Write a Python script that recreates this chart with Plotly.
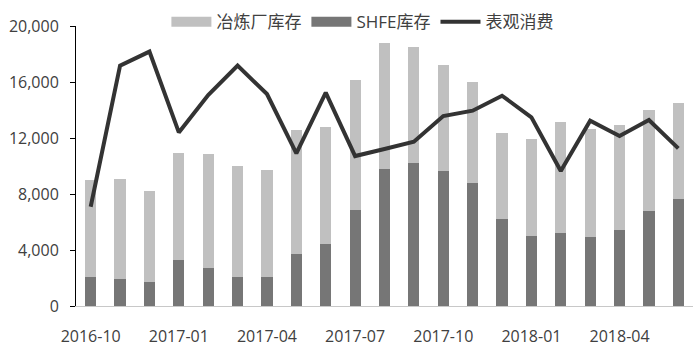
import plotly.graph_objects as go

months = ["2016-10","2016-11","2016-12","2017-01","2017-02","2017-03","2017-04","2017-05","2017-06",
          "2017-07","2017-08","2017-09","2017-10","2017-11","2017-12","2018-01","2018-02","2018-03",
          "2018-04","2018-05","2018-06"]
shfe = [2070, 1930, 1710, 3290, 2710, 2070, 2070, 3710, 4430, 6860, 9790, 10210, 9640, 8790,
        6210, 5000, 5210, 4930, 5430, 6790, 7640]
total = [9000, 9070, 8210, 10950, 10860, 10020, 9710, 12570, 12790, 16140, 18790, 18500, 17210,
         16000, 12360, 11930, 13140, 12660, 12930, 14000, 14500]
smelter = [t - s for t, s in zip(total, shfe)]
consumption = [7090, 17170, 18170, 12400, 15070, 17170, 15140, 10900, 15240, 10710, 11210, 11740,
               13570, 13950, 15020, 13480, 9640, 13240, 12140, 13290, 11260]
tick_labels = ["2016-10","2017-01","2017-04","2017-07","2017-10","2018-01","2018-04"]

font = "Open Sans, Noto Sans CJK SC, sans-serif"
c_light, c_dark, c_line = "#c0c0c0", "#767676", "#333333"

fig = go.Figure()
fig.add_trace(go.Bar(x=months, y=shfe, name="SHFE库存", marker_color=c_dark,
                     marker_line_width=0, showlegend=False))
fig.add_trace(go.Bar(x=months, y=smelter, name="冶炼厂库存", marker_color=c_light,
                     marker_line_width=0, showlegend=False))
fig.add_trace(go.Scatter(x=months, y=consumption, name="表观消费", mode="lines",
                         line=dict(color=c_line, width=4), showlegend=False))
# legend proxies (wide rectangles like the reference)
fig.add_trace(go.Scatter(x=[None], y=[None], name="冶炼厂库存", mode="lines",
                         line=dict(color=c_light, width=11), legendrank=1))
fig.add_trace(go.Scatter(x=[None], y=[None], name="SHFE库存", mode="lines",
                         line=dict(color=c_dark, width=11), legendrank=2))
fig.add_trace(go.Scatter(x=[None], y=[None], name="表观消费", mode="lines",
                         line=dict(color=c_line, width=4), legendrank=3))

fig.update_layout(
    width=695, height=352,
    margin=dict(l=76, r=2, t=26, b=46),
    barmode="stack", bargap=0.62,
    plot_bgcolor="white", paper_bgcolor="white",
    font=dict(family=font, size=15, color="#404040"),
    legend=dict(orientation="h", x=0.465, xanchor="center", y=1.014, yanchor="middle",
                font=dict(size=17, color="#404040"), traceorder="normal",
                itemwidth=40, bgcolor="rgba(0,0,0,0)", tracegroupgap=0),
    xaxis=dict(type="category", tickmode="array", tickvals=tick_labels, ticktext=tick_labels,
               showline=True, linecolor="#c8c8c8", linewidth=1, ticks="", showgrid=False,
               tickfont=dict(size=16), ticklabelstandoff=16),
    yaxis=dict(range=[0, 20000], tickvals=[0, 4000, 8000, 12000, 16000, 20000],
               tickformat=",d", showline=True, linecolor="#000000", linewidth=1,
               ticks="outside", ticklen=5, tickcolor="#000000", showgrid=False, zeroline=False,
               tickfont=dict(size=16), ticklabelstandoff=8),
)

fig.write_html("out.html")
